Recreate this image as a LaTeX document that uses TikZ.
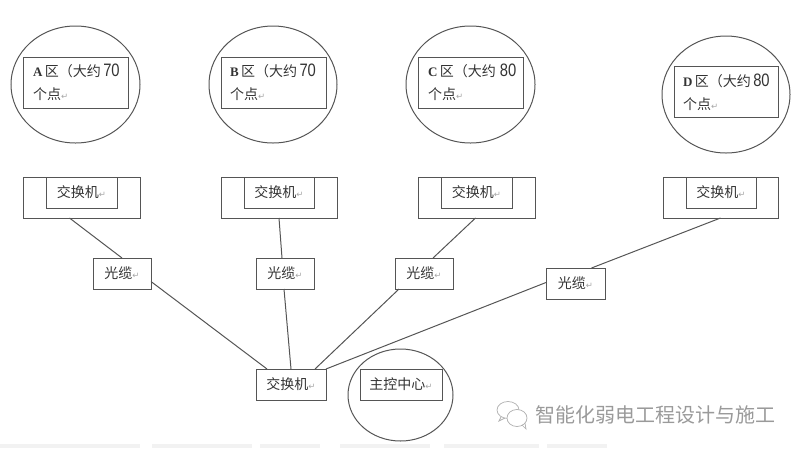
\documentclass[tikz,border=0pt]{standalone}
\usepackage{fontspec}
\setmainfont{Liberation Serif}
\newfontfamily\cjk{Noto Sans CJK SC}[Scale=1]
\newfontfamily\djv{DejaVu Sans}
\newfontfamily\lsans{Liberation Sans}
\usetikzlibrary{shapes.geometric}
\definecolor{ln}{HTML}{555555}
\definecolor{tx}{HTML}{333333}
\definecolor{wm}{HTML}{9A9A9A}
\newcommand{\ret}{{\djv\fontsize{8.5}{8.5}\selectfont\textcolor{gray!70}{↵}}}
\newcommand{\znum}[1]{{\lsans\fontsize{18}{18}\selectfont\scalebox{.82}[1]{#1}}}
\newcommand{\zlet}[1]{{\fontsize{13}{13}\selectfont\bfseries\rmfamily #1}}
\tikzset{
  x=1pt,y=-1pt,
  box/.style={draw=ln,line width=1pt,rectangle,inner sep=0pt,outer sep=0pt,text=tx},
  zone/.style={draw=ln,line width=1pt,ellipse,inner sep=0pt,outer sep=0pt},
  lnk/.style={draw=ln,line width=1pt},
  zlab/.style={font=\cjk\fontsize{14}{23}\selectfont,text=tx,inner sep=0pt,align=left,anchor=north west},
}
\newcommand{\rbox}[6]{% name, x1,y1,x2,y2, text
  \node[box,minimum width={(#4-#2)*1pt},minimum height={(#5-#3)*1pt},font=\cjk\fontsize{14}{14}\selectfont] (#1) at ({(#2+#4)/2},{(#3+#5)/2}) {#6};}
\newcommand{\zell}[5]{%
  \node[zone,minimum width={(#4-#2)*1pt},minimum height={(#5-#3)*1pt}] (#1) at ({(#2+#4)/2},{(#3+#5)/2}) {};}
\begin{document}
\begin{tikzpicture}
\useasboundingbox (0,0) rectangle (800,448);
% zones
\zell{zA}{11}{26}{140}{143}
\zell{zB}{209}{26}{337}{143}
\zell{zC}{406}{26}{535}{143}
\zell{zD}{662}{36}{790}{153}
\rbox{rA}{23}{57}{128}{108}{}
\rbox{rB}{221}{57}{326}{108}{}
\rbox{rC}{418}{57}{523}{108}{}
\rbox{rD}{674}{66}{778}{117}{}
\node[zlab] (tA) at (33,64) {\zlet{A}\,区（大约\,\znum{70}\\个点\ret};
\node[zlab] (tB) at (230,64) {\zlet{B}\,区（大约\,\znum{70}\\个点\ret};
\node[zlab] (tC) at (428,64) {\zlet{C}\,区（大约\;\znum{80}\\个点\ret};
\node[zlab] (tD) at (683,74) {\zlet{D}\,区（大约\,\znum{80}\\个点\ret};
% switches
\rbox{sA}{23}{177}{140}{218}{}
\rbox{sB}{221}{177}{337}{218}{}
\rbox{sC}{418}{177}{535}{218}{}
\rbox{sD}{663}{177}{778}{218}{}
\rbox{iA}{46}{177}{117}{208}{交换机\ret}
\rbox{iB}{244}{177}{314}{208}{交换机\ret}
\rbox{iC}{441}{177}{512}{208}{交换机\ret}
\rbox{iD}{686}{177}{756}{208}{交换机\ret}
% cables
\rbox{cA}{93}{258}{151}{289}{光缆\ret}
\rbox{cB}{256}{258}{314}{289}{光缆\ret}
\rbox{cC}{395}{258}{453}{289}{光缆\ret}
\rbox{cD}{546}{268}{605}{299}{光缆\ret}
% centre
\zell{zM}{348}{349}{453}{441}
\rbox{hub}{256}{369}{326}{400}{交换机\ret}
\rbox{ctl}{360}{369}{442}{400}{主控中心\ret}
% links
\draw[lnk] ([xshift=-12pt]sA.south) -- (cA.north);
\draw[lnk] ([yshift=0pt]cA.east) ++(0,8) coordinate (pA) (pA) -- ([xshift=-24pt]hub.north);
\draw[lnk] ([xshift=0pt]sB.south) -- ([xshift=-3pt]cB.north);
\draw[lnk] ([xshift=-1pt]cB.south) -- (hub.north);
\draw[lnk] ([xshift=-1pt]sC.south) -- ([xshift=9pt]cC.north);
\draw[lnk] (cC.south west) ++(4,0) coordinate (pC) (pC) -- ([xshift=24pt]hub.north);
\draw[lnk] ([xshift=0pt]sD.south) ++(0,0) -- ([xshift=16pt]cD.north);
\draw[lnk] ([yshift=1pt]cD.west) -- (hub.north east);
% watermark
\node[font=\cjk\fontsize{20}{20}\selectfont,text=wm,inner sep=0pt,anchor=west] (wm) at (535,415) {智能化弱电工程设计与施工};
\draw[wm!80,line width=.7pt] (508,410) ellipse (11 and 8.5);
\draw[wm!80,line width=.7pt,fill=white] (517,418) ellipse (10 and 8.5);
\draw[wm!80,line width=.7pt] (522,425) -- (526,429) -- (525,423);
\draw[wm!80,line width=.7pt] (501,417) -- (499,421) -- (505,418);
% faint cut-off line of text at the lower edge
\draw[black!5,line width=4pt,dash pattern=on 140pt off 12pt on 100pt off 8pt on 60pt off 20pt on 90pt off 14pt on 95pt off 8pt on 60pt off 300pt] (0,446) -- (660,446);
\end{tikzpicture}
\end{document}
